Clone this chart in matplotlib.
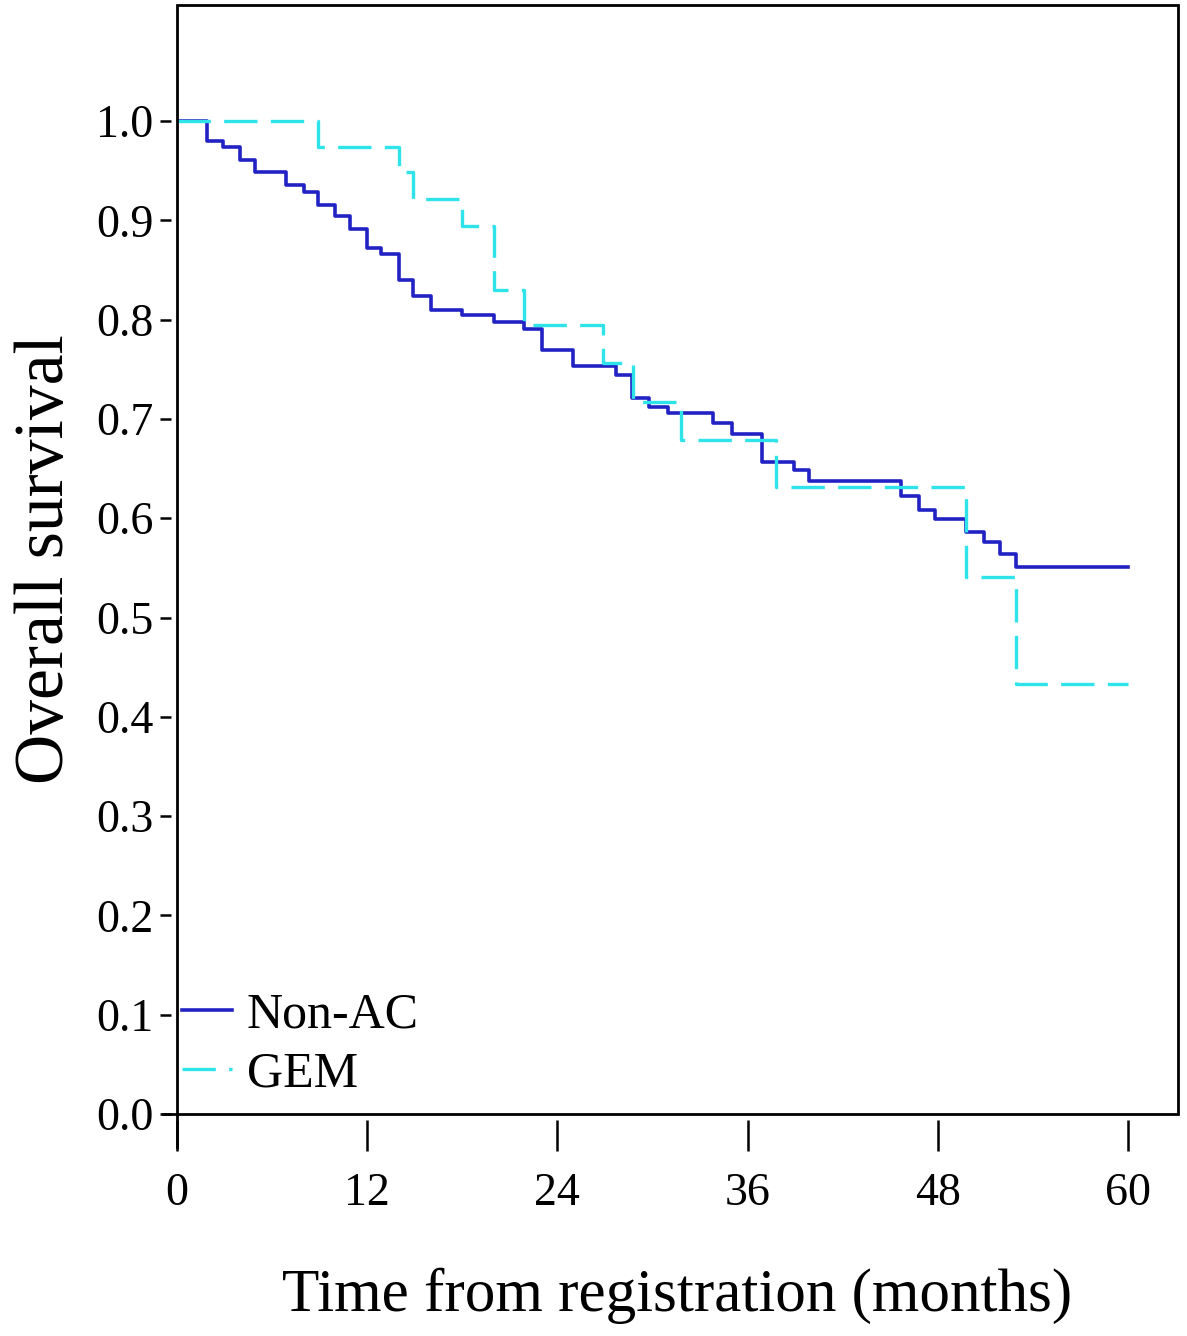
import matplotlib
matplotlib.use("Agg")
import matplotlib.pyplot as plt
from matplotlib.patches import Rectangle

# Kaplan-Meier steps (time in months, survival after the drop)
nonac_times = [1.9, 2.9, 4.0, 4.9, 6.9, 8.0, 8.9, 10.0, 10.9, 12.0, 12.9, 14.0,
               14.9, 16.0, 18.0, 20.0, 21.9, 23.0, 25.0, 27.7, 28.7, 29.8, 31.0,
               33.8, 35.0, 36.9, 38.9, 39.9, 45.7, 46.8, 47.8, 49.8, 50.9, 51.9,
               52.9]
nonac_surv = [0.980, 0.974, 0.961, 0.949, 0.936, 0.929, 0.916, 0.904, 0.891,
              0.872, 0.866, 0.840, 0.824, 0.810, 0.805, 0.798, 0.791, 0.769,
              0.753, 0.744, 0.721, 0.712, 0.706, 0.696, 0.685, 0.657, 0.649,
              0.638, 0.622, 0.608, 0.599, 0.586, 0.576, 0.564, 0.551]

gem_times = [8.9, 14.0, 14.9, 18.0, 20.0, 21.9, 26.9, 28.8, 31.8, 37.8, 49.8, 52.9]
gem_surv = [0.974, 0.949, 0.922, 0.894, 0.830, 0.795, 0.756, 0.717, 0.679,
            0.631, 0.541, 0.433]

follow_up = 60
x_ticks = [0, 12, 24, 36, 48, 60]
y_ticks = [0.0, 0.1, 0.2, 0.3, 0.4, 0.5, 0.6, 0.7, 0.8, 0.9, 1.0]
labels = ["Non-AC", "GEM"]

plt.rcParams['font.family'] = ['Liberation Serif', 'DejaVu Serif']

fig = plt.figure(figsize=(11.87, 13.36), dpi=100)
ax = fig.add_axes([0.1491, 0.1662, 0.8433, 0.8301])


def km_curve(times, surv):
    xs = [0] + list(times) + [follow_up]
    ys = [1.0] + list(surv) + [surv[-1]]
    return xs, ys


x, y = km_curve(nonac_times, nonac_surv)
ax.step(x, y, where='post', color='#2222c4', lw=2.6, label=labels[0])
x, y = km_curve(gem_times, gem_surv)
ax.step(x, y, where='post', color='#2ee3ea', lw=2.4, dashes=(10, 4),
        label=labels[1])

ax.set_xlim(0, 63.15)
ax.set_ylim(0, 1.117)
ax.set_xticks(x_ticks)
ax.set_yticks(y_ticks)
ax.set_yticklabels(["%.1f" % v for v in y_ticks])

# ticks sit a little away from the frame, so move hidden spines outward
for side in ['top', 'right', 'bottom', 'left']:
    ax.spines[side].set_visible(False)
ax.spines['bottom'].set_position(('outward', 4))
ax.spines['left'].set_position(('outward', 4))
ax.tick_params(axis='x', direction='out', length=22, width=1.8, pad=16,
               labelsize=33)
ax.tick_params(axis='y', direction='out', length=8, width=1.8, pad=5,
               labelsize=33)

# frame + the little overhang at the lower-left corner
ax.add_patch(Rectangle((0, 0), 1, 1, transform=ax.transAxes, fill=False,
                       lw=2.0, ec='black', clip_on=False, zorder=5))
ax.plot([0, 0], [0, -0.03], transform=ax.transAxes, color='black', lw=2.0,
        clip_on=False)
ax.plot([-0.014, 0], [0, 0], transform=ax.transAxes, color='black', lw=2.0,
        clip_on=False)

ax.set_xlabel("Time from registration (months)", fontsize=44, labelpad=38)
ax.set_ylabel("Overall survival", fontsize=50, labelpad=13)

ax.legend(loc='lower left', bbox_to_anchor=(0.005, 0.015), frameon=False,
          fontsize=36, handlelength=1.0, handletextpad=0.3, labelspacing=0.25,
          borderpad=0, borderaxespad=0)

fig.savefig("out.png", dpi=100)
